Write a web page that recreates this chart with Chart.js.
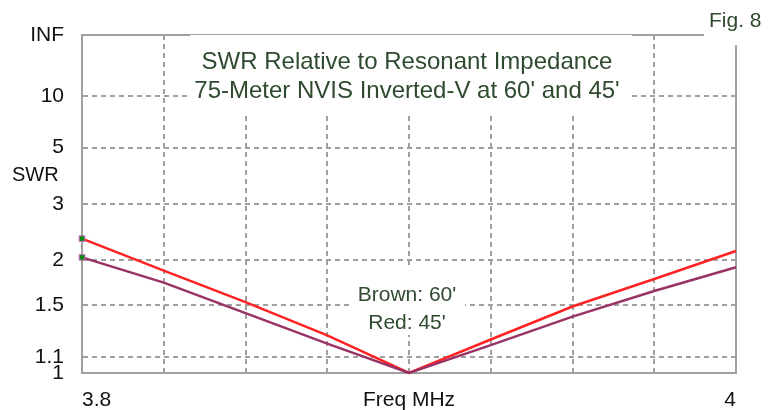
<!DOCTYPE html>
<html>
<head>
<meta charset="utf-8">
<script src="https://cdn.jsdelivr.net/npm/chart.js@4/dist/chart.umd.min.js"></script>
<style>
  html, body { margin: 0; padding: 0; background: #fff; }
  #wrap { width: 769px; height: 410px; }
</style>
</head>
<body>
<div id="wrap"><canvas id="swrChart"></canvas></div>
<script>
// Données (SWR en fonction de la fréquence)
const FREQS = [3.8, 3.825, 3.85, 3.875, 3.9, 3.925, 3.95, 3.975, 4.0];
const SWR_60 = [2.04, 1.73, 1.43, 1.19, 1.0, 1.18, 1.40, 1.64, 1.91];   // brown
const SWR_45 = [2.32, 1.87, 1.53, 1.25, 1.0, 1.22, 1.49, 1.77, 2.13];   // red

const FREQ_TICKS = [3.8, 3.825, 3.85, 3.875, 3.9, 3.925, 3.95, 3.975, 4.0];
const FREQ_LABELS = ['3.8', '', '', '', 'Freq MHz', '', '', '', '4'];
const SWR_TICKS = [1, 1.1, 1.5, 2, 3, 5, 10, Infinity];
const SWR_LABELS = ['1', '1.1', '1.5', '2', '3', '5', '10', 'INF'];

const TITLE_LINES = ['SWR Relative to Resonant Impedance', "75-Meter NVIS Inverted-V at 60' and 45'"];
const NOTE_LINES = ["Brown: 60'", "Red: 45'"];
const FIG_LABEL = 'Fig. 8';
const Y_NAME = 'SWR';

const FONT = 'Arial, "Liberation Sans", sans-serif';
const TEXT_GREEN = '#2f4a2f';
const GRID = '#a0a0a0';
const FRAME = '#a0a0a0';

// échelle EZNEC : position proportionnelle au coefficient de réflexion
function gamma(swr) {
    return isFinite(swr) ? (swr - 1) / (swr + 1) : 1;
}

function toPoints(values) {
    return FREQS.map((f, i) => ({ x: f, y: gamma(values[i]) }));
}

function firstPointOnly(r) {
    return (ctx) => ctx.dataIndex === 0 ? r : 0;
}

// textes et cadres blancs par-dessus la grille
const textPlugin = {
    id: 'texts',
    beforeDatasetsDraw(chart) {
        const ctx = chart.ctx;
        ctx.save();
        ctx.fillStyle = '#fff';
        ctx.fillRect(190, 35, 442, 80);
        ctx.fillRect(353, 265, 112, 70);

        ctx.fillStyle = TEXT_GREEN;
        ctx.textAlign = 'center';
        ctx.textBaseline = 'middle';
        ctx.font = '24px ' + FONT;
        ctx.fillText(TITLE_LINES[0], 407, 62);
        ctx.fillText(TITLE_LINES[1], 407, 91);

        ctx.font = '21px ' + FONT;
        ctx.fillText(NOTE_LINES[0], 407, 295);
        ctx.fillText(NOTE_LINES[1], 407, 323);
        ctx.restore();
    },
    afterDraw(chart) {
        const ctx = chart.ctx;
        ctx.save();
        ctx.fillStyle = '#fff';
        ctx.fillRect(704, 0, 65, 45);
        ctx.fillStyle = TEXT_GREEN;
        ctx.textAlign = 'left';
        ctx.textBaseline = 'middle';
        ctx.font = '21px ' + FONT;
        ctx.fillText(FIG_LABEL, 709, 21);

        ctx.fillStyle = '#111';
        ctx.font = '20px ' + FONT;
        ctx.fillText(Y_NAME, 12, 175);
        ctx.restore();
    }
};

const ctx = document.getElementById('swrChart').getContext('2d');

new Chart(ctx, {
    type: 'line',
    data: {
        datasets: [
            {
                label: "60'",
                data: toPoints(SWR_60),
                borderColor: '#993366',
                borderWidth: 2.5,
                clip: false,
                pointStyle: 'rect',
                pointRadius: firstPointOnly(4),
                pointBackgroundColor: '#0a8a0a',
                pointBorderColor: '#cc66cc',
                pointBorderWidth: 1,
                tension: 0
            },
            {
                label: "45'",
                data: toPoints(SWR_45),
                borderColor: '#ff2222',
                borderWidth: 2.5,
                clip: false,
                pointStyle: 'rect',
                pointRadius: firstPointOnly(4),
                pointBackgroundColor: '#0a8a0a',
                pointBorderColor: '#cc66cc',
                pointBorderWidth: 1,
                tension: 0
            }
        ]
    },
    options: {
        responsive: true,
        maintainAspectRatio: false,
        animation: false,
        layout: {
            padding: { left: 0, right: 33, top: 35, bottom: 0 }
        },
        plugins: {
            legend: { display: false },
            tooltip: { enabled: false }
        },
        scales: {
            x: {
                type: 'linear',
                min: 3.8,
                max: 4.0,
                afterBuildTicks: (scale) => {
                    scale.ticks = FREQ_TICKS.map(v => ({ value: v }));
                },
                afterFit: (scale) => { scale.height = 37; },
                ticks: {
                    autoSkip: false,
                    maxRotation: 0,
                    align: 'inner',
                    padding: 15,
                    color: '#111',
                    font: { family: FONT, size: 21 },
                    callback: (value, index) => FREQ_LABELS[index]
                },
                grid: {
                    drawTicks: false,
                    color: (c) => c.index === 0 ? 'rgba(0,0,0,0)' : (c.index === FREQ_TICKS.length - 1 ? FRAME : GRID),
                    lineWidth: 2
                },
                border: {
                    display: true,
                    color: FRAME,
                    width: 2,
                    dash: (c) => c.index === FREQ_TICKS.length - 1 ? [] : [5, 4]
                }
            },
            y: {
                type: 'linear',
                min: 0,
                max: 1,
                afterBuildTicks: (scale) => {
                    scale.ticks = SWR_TICKS.map(s => ({ value: gamma(s) }));
                },
                afterFit: (scale) => { scale.width = 82; },
                ticks: {
                    autoSkip: false,
                    padding: 18,
                    color: '#111',
                    font: { family: FONT, size: 21 },
                    callback: (value, index) => SWR_LABELS[index]
                },
                grid: {
                    drawTicks: false,
                    color: (c) => c.index === 0 ? 'rgba(0,0,0,0)' : (c.index === SWR_TICKS.length - 1 ? FRAME : GRID),
                    lineWidth: 2
                },
                border: {
                    display: true,
                    color: FRAME,
                    width: 2,
                    dash: (c) => c.index === SWR_TICKS.length - 1 ? [] : [5, 4]
                }
            }
        }
    },
    plugins: [textPlugin]
});
</script>
</body>
</html>
